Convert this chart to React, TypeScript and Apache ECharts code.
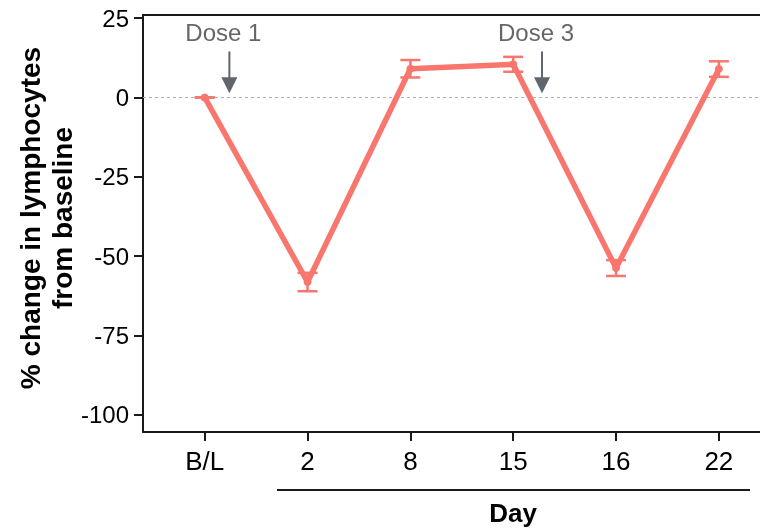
import React, { useEffect, useRef } from "react";
import * as echarts from "echarts";

const days = ["B/L", "2", "8", "15", "16", "22"];
const meanChange = [0, -58.2, 9.05, 10.45, -53.8, 9.0];
const errLow = [0, -61.1, 6.3, 8.1, -56.3, 6.5];
const errHigh = [0, -55.3, 11.8, 12.8, -51.3, 11.4];
const yTicks = [-100, -75, -50, -25, 0, 25];
const doseLabels = ["Dose 1", "Dose 3"];
const dosePositions = [1.24, 4.28];

const RED = "#F8766D";
const FONT = "'Liberation Sans', Arial, sans-serif";

export default function App() {
  const ref = useRef<HTMLDivElement>(null);
  useEffect(() => {
    if (!ref.current) return;
    const chart = echarts.init(ref.current, null, { renderer: "svg" });
    const xPos = days.map((_, i) => i + 1);
    const option: any = {
      animation: false,
      grid: { left: 143, right: 0, top: 15, bottom: 96, containLabel: false },
      xAxis: [
        {
          type: "value",
          min: 0.4,
          max: 6.4,
          axisLine: { show: true, onZero: false, lineStyle: { color: "#1a1a1a", width: 2 } },
          axisTick: { show: true, customValues: xPos, length: 9, lineStyle: { color: "#1a1a1a", width: 2 } },
          axisLabel: {
            customValues: xPos,
            formatter: (v: number) => days[Math.round(v) - 1] ?? "",
            color: "#000",
            fontSize: 26,
            fontFamily: FONT,
            margin: 16,
          },
          splitLine: { show: false },
        },
        {
          type: "value",
          position: "top",
          min: 0.4,
          max: 6.4,
          axisLine: { show: true, onZero: false, lineStyle: { color: "#1a1a1a", width: 2 } },
          axisTick: { show: false },
          axisLabel: { show: false },
          splitLine: { show: false },
        },
      ],
      yAxis: {
        type: "value",
        min: -105.5,
        max: 26,
        axisLine: { show: true, onZero: false, lineStyle: { color: "#1a1a1a", width: 2 } },
        axisTick: { show: true, customValues: yTicks, length: 9, lineStyle: { color: "#1a1a1a", width: 2 } },
        axisLabel: { customValues: yTicks, color: "#000", fontSize: 24, fontFamily: FONT, margin: 14 },
        splitLine: { show: false },
      },
      series: [
        {
          type: "line",
          data: meanChange.map((v, i) => [i + 1, v]),
          lineStyle: { color: RED, width: 5.5 },
          itemStyle: { color: RED },
          symbol: "circle",
          symbolSize: 8,
          z: 3,
          markLine: {
            silent: true,
            symbol: "none",
            label: { show: false },
            lineStyle: { color: "#b0b0b0", type: [3, 3], width: 1 },
            data: [{ yAxis: 0 }],
            z: 1,
          },
        },
        {
          type: "custom",
          z: 4,
          data: meanChange.map((_, i) => [i + 1, errLow[i], errHigh[i]]),
          renderItem: (params: any, api: any) => {
            const x = api.value(0);
            const lo = api.coord([x, api.value(1)]);
            const hi = api.coord([x, api.value(2)]);
            const hw = 10;
            const style = { stroke: RED, lineWidth: 2.5 };
            return {
              type: "group",
              children: [
                { type: "line", shape: { x1: lo[0], y1: lo[1], x2: hi[0], y2: hi[1] }, style },
                { type: "line", shape: { x1: lo[0] - hw, y1: lo[1], x2: lo[0] + hw, y2: lo[1] }, style },
                { type: "line", shape: { x1: hi[0] - hw, y1: hi[1], x2: hi[0] + hw, y2: hi[1] }, style },
              ],
            };
          },
        },
        {
          type: "custom",
          z: 5,
          data: dosePositions.map((p) => [p, 14.5, 1.3]),
          renderItem: (params: any, api: any) => {
            const x = api.value(0);
            const top = api.coord([x, api.value(1)]);
            const tip = api.coord([x, api.value(2)]);
            const headH = 16;
            const headW = 8;
            return {
              type: "group",
              children: [
                {
                  type: "line",
                  shape: { x1: top[0], y1: top[1], x2: tip[0], y2: tip[1] - headH + 1 },
                  style: { stroke: "#5f666e", lineWidth: 2 },
                },
                {
                  type: "polygon",
                  shape: {
                    points: [
                      [tip[0] - headW, tip[1] - headH],
                      [tip[0] + headW, tip[1] - headH],
                      [tip[0], tip[1]],
                    ],
                  },
                  style: { fill: "#5f666e" },
                },
                {
                  type: "text",
                  x: top[0] - 6,
                  y: top[1] - 19,
                  style: {
                    text: doseLabels[params.dataIndex],
                    fill: "#666666",
                    font: `24px ${FONT}`,
                    align: "center",
                    verticalAlign: "middle",
                  },
                },
              ],
            };
          },
        },
      ],
      graphic: [
        {
          type: "text",
          x: 46,
          y: 218,
          rotation: Math.PI / 2,
          style: {
            text: "% change in lymphocytes\nfrom baseline",
            fill: "#000",
            font: `bold 28px ${FONT}`,
            align: "center",
            verticalAlign: "middle",
            lineHeight: 32,
          },
        },
        {
          type: "line",
          shape: { x1: 277, y1: 490, x2: 750, y2: 490 },
          style: { stroke: "#1a1a1a", lineWidth: 2 },
        },
        {
          type: "text",
          x: 513,
          y: 513,
          style: {
            text: "Day",
            fill: "#000",
            font: `bold 26px ${FONT}`,
            align: "center",
            verticalAlign: "middle",
          },
        },
      ],
    };
    chart.setOption(option);
    return () => chart.dispose();
  }, []);
  return (
    <div
      ref={ref}
      style={{ position: "fixed", left: 0, top: 0, width: 760, height: 528 }}
    />
  );
}
